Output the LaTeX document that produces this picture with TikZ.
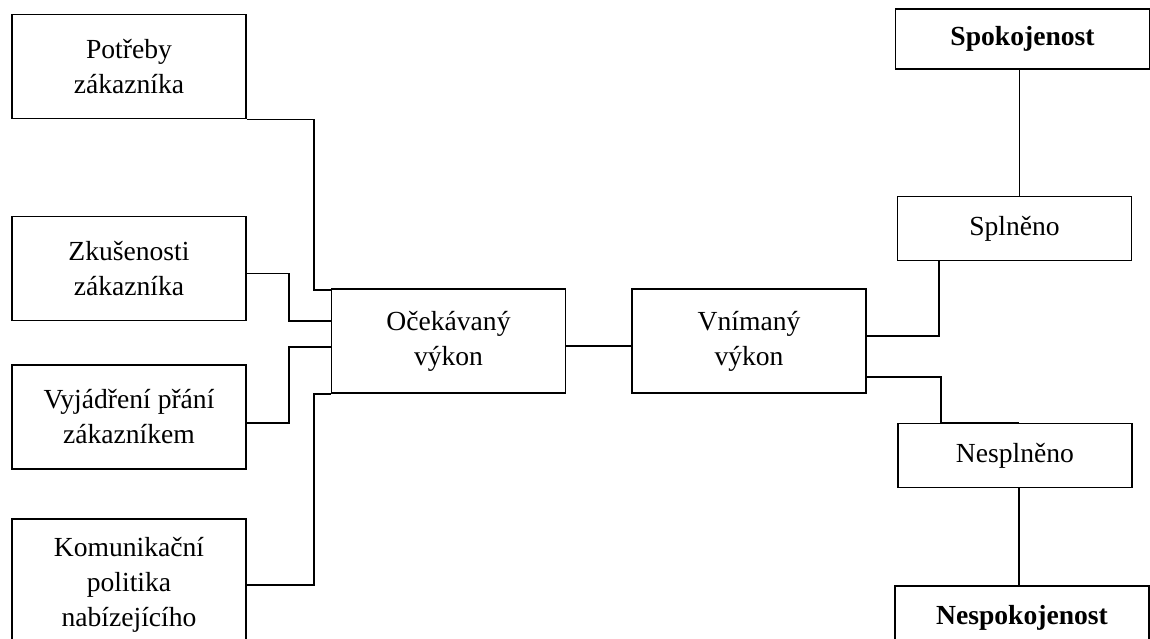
\documentclass[tikz,border=0pt]{standalone}
\usepackage{fontspec}
\setmainfont{Liberation Serif}
\usetikzlibrary{positioning}

\begin{document}
\begin{tikzpicture}[
    x=0.5pt, y=-0.5pt,
    line width=0.8pt,
    every node/.style={font=\fontsize{13.8}{17.5}\selectfont},
    side box/.style={rectangle,draw,align=center,inner sep=0pt,minimum width=117pt,minimum height=52pt},
    result box/.style={rectangle,draw,align=center,inner sep=0pt,minimum width=127pt,minimum height=30pt,font=\fontsize{13.8}{17.5}\selectfont\bfseries},
    state box/.style={rectangle,draw,align=center,inner sep=0pt,minimum width=117pt,minimum height=32pt}]

  \useasboundingbox (0,0) rectangle (1150,638);
  \clip (0,0) rectangle (1150,638);

  %inputs
  \node[side box] (Potreby) at (129,66.5) {Potřeby\\zákazníka};
  \node[side box] (Zkusenosti) at (129,268.5) {Zkušenosti\\zákazníka};
  \node[side box] (Vyjadreni) at (129,417) {Vyjádření přání\\zákazníkem};
  \node[side box,minimum height=66pt] (Komunikace) at (129,585) {Komunikační\\politika\\nabízejícího};

  \node[side box] (Ocekavany) at (448.5,341) {Očekávaný\\výkon};
  \node[side box] (Vnimany) at (749,341) {Vnímaný\\výkon};

  %outcomes
  \node[result box] (Spokojenost) at (1022.5,39) {Spokojenost};
  \node[state box] (Splneno) at (1014.5,228.5) {Splněno};
  \node[state box] (Nesplneno) at (1015,455.5) {Nesplněno};
  \node[result box,minimum height=32pt] (Nespokojenost) at (1022,618) {Nespokojenost};

  \draw (Potreby.south east) -- ++(67,0) |- ([yshift=-1pt]Ocekavany.north west);
  \draw ([yshift=-2.5pt]Zkusenosti.east) -- ++(42,0) |- ([yshift=10pt]Ocekavany.west);
  \draw ([yshift=-3pt]Vyjadreni.east) -- ++(42,0) |- ([yshift=-3pt]Ocekavany.west);
  \draw (Komunikace.east) -- ++(67,0) |- (Ocekavany.south west);

  \draw ([yshift=-2.5pt]Ocekavany.east) -- ([yshift=-2.5pt]Vnimany.west);

  \draw ([yshift=2.5pt]Vnimany.east) -| ([xshift=21pt]Splneno.south west);
  \draw ([yshift=-18pt]Vnimany.east) -| ([xshift=22pt]Nesplneno.north west) -- ([xshift=2pt]Nesplneno.north);
  \draw ([xshift=-1.5pt]Spokojenost.south) -- ([xshift=-1.5pt]Spokojenost.south |- Splneno.north);
  \draw ([xshift=2pt]Nesplneno.south) -- ([xshift=2pt]Nesplneno.south |- Nespokojenost.north);

\end{tikzpicture}
\end{document}
